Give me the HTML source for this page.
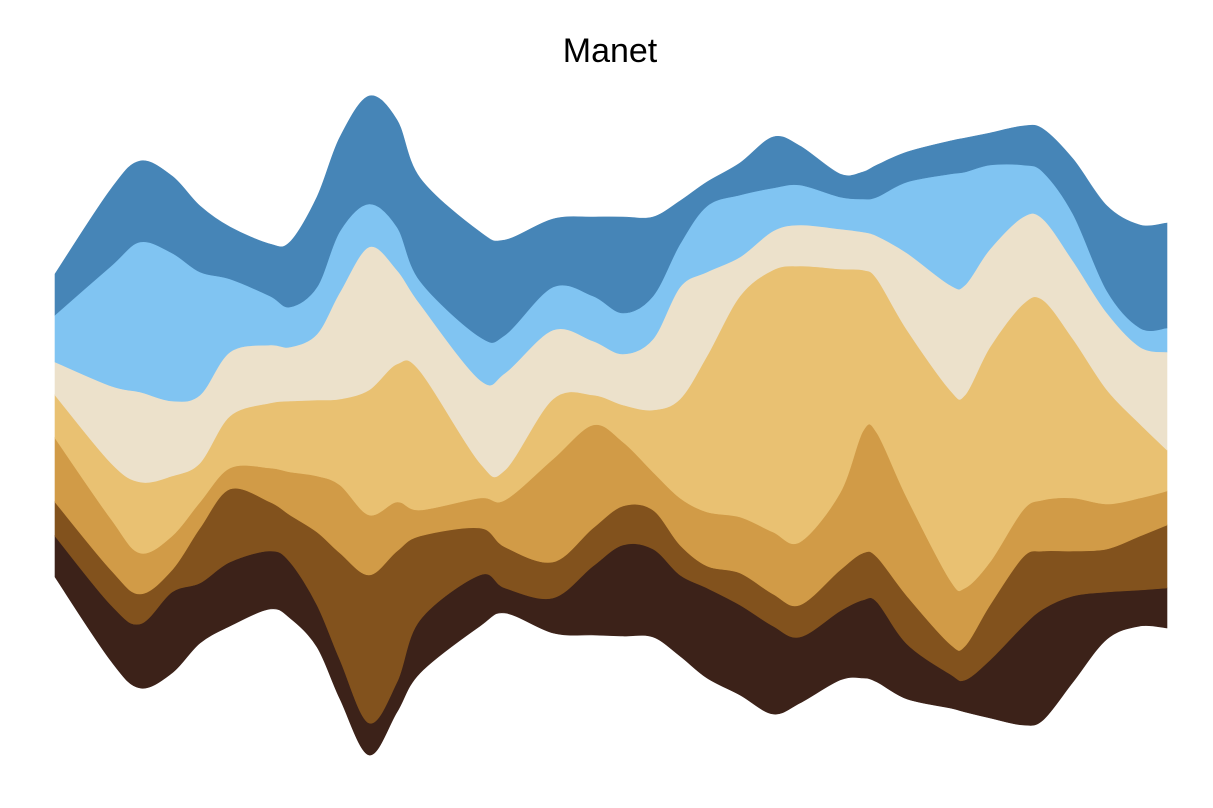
<!DOCTYPE html>
<html><head><meta charset="utf-8"><style>
html,body{margin:0;padding:0;background:#fff;}
svg{display:block;}
</style></head><body>
<svg id="chart" width="1213" height="808" viewBox="0 0 1213 808" xmlns="http://www.w3.org/2000/svg">
<text x="610" y="62" text-anchor="middle" font-family="Liberation Sans, sans-serif" font-size="34" fill="#000">Manet</text>
<g id="layers"></g>
</svg>
<script>
const times = [0,56,85,117,145,175,215,235,262,285,314,342,365,425,450,498,538,568,598,625,652,685,718,745,785,808,822,852,895,910,935,968,988,1018,1052,1085,1112];
const baseline = [-152,-236,-263,-248,-218,-201,-184,-193,-222,-274,-330,-287,-248,-201,-188,-208,-210,-211,-212,-231,-253,-270,-289,-278,-255,-253,-257,-274,-283,-287,-293,-300,-295,-257,-214,-201,-203];
const darkVals  = [41,56,64,81,60,64,58,56,42,39,32,30,53,51,25,35,69,91,88,81,90,90,88,66,69,78,80,55,34,32,58,99,111,86,47,36,40];
const brownVals = [34,35,30,22,55,73,49,47,73,107,148,131,84,47,41,36,38,39,39,30,22,32,32,32,41,47,45,48,30,34,55,69,58,45,43,54,63];
const tanVals   = [64,51,41,34,26,21,34,43,56,68,60,49,26,30,47,103,103,64,38,47,54,56,62,63,77,122,124,98,64,58,43,47,51,53,45,38,34];
const goldVals  = [43,56,71,60,39,52,65,71,76,86,125,138,139,35,30,60,30,37,62,99,156,221,262,276,224,161,154,168,190,193,215,206,200,159,114,74,41];
const creamVals = [33,77,90,75,68,64,58,54,66,107,143,94,67,83,97,69,54,51,71,112,84,39,39,41,40,38,43,77,105,110,98,87,81,78,77,77,98];
const lightBlueVals = [47,120,150,148,123,73,49,40,47,61,43,43,23,43,38,43,45,41,43,43,66,62,43,40,32,33,39,71,111,113,84,52,47,47,22,19,24];
const blueVals  = [41,77,81,77,66,52,52,65,90,94,108,107,103,105,95,68,79,96,79,43,24,32,51,39,23,27,32,30,33,34,32,39,43,55,85,103,105];

const series = [darkVals, brownVals, tanVals, goldVals, creamVals, lightBlueVals, blueVals];
const seriesNames = ['layer-dark-brown','layer-brown','layer-tan','layer-gold','layer-cream','layer-light-blue','layer-blue'];
const colors = ['#3c2219','#82521d','#d19b47','#e9c172','#ece1cb','#80c4f2','#4685b7'];

const xScale = t => 55 + t / 1112 * 1112;
const yScale = v => 425 - v;

function smoothPath(pts){
  let d = 'M' + pts[0][0] + ',' + pts[0][1];
  for (let i = 0; i < pts.length - 1; i++){
    const p0 = pts[Math.max(0,i-1)], p1 = pts[i], p2 = pts[i+1], p3 = pts[Math.min(pts.length-1,i+2)];
    const c1x = p1[0] + (p2[0]-p0[0])/6, c1y = p1[1] + (p2[1]-p0[1])/6;
    const c2x = p2[0] - (p3[0]-p1[0])/6, c2y = p2[1] - (p3[1]-p1[1])/6;
    d += ' C' + c1x.toFixed(1) + ',' + c1y.toFixed(1) + ' ' + c2x.toFixed(1) + ',' + c2y.toFixed(1) + ' ' + p2[0].toFixed(1) + ',' + p2[1].toFixed(1);
  }
  return d;
}
function smoothPathNoMove(pts){
  return smoothPath(pts).replace(/^M[^ ]+/, 'L' + pts[0][0] + ',' + pts[0][1]);
}

const g = document.getElementById('layers');
let lower = baseline.slice();
series.forEach((vals, k) => {
  const upper = lower.map((b, i) => b + vals[i]);
  const top = times.map((t, i) => [xScale(t), yScale(upper[i])]);
  const bot = times.map((t, i) => [xScale(t), yScale(lower[i])]).reverse();
  const d = smoothPath(top) + ' ' + smoothPathNoMove(bot) + ' Z';
  const p = document.createElementNS('http://www.w3.org/2000/svg','path');
  p.setAttribute('d', d);
  p.setAttribute('fill', colors[k]);
  p.setAttribute('stroke', colors[k]);
  p.setAttribute('stroke-width', '0.6');
  
  
  g.appendChild(p);
  lower = upper;
});
</script>
</body></html>
